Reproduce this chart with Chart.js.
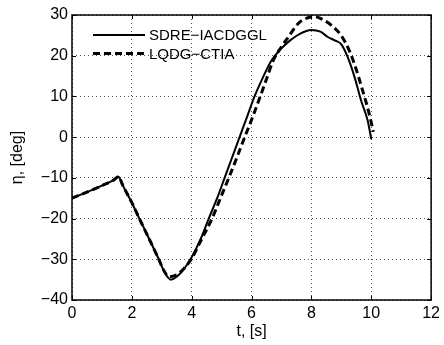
<!DOCTYPE html>
<html>
<head>
<meta charset="utf-8">
<script src="https://cdn.jsdelivr.net/npm/chart.js@4"></script>
<style>
  body { margin: 0; background: #fff; }
  canvas { display: block; }
</style>
</head>
<body>
<canvas id="etaChart" width="444" height="345"></canvas>
<script>
// axis ticks
const xTicks = [0, 2, 4, 6, 8, 10, 12];
const yTicks = [-40, -30, -20, -10, 0, 10, 20, 30];

// series: SDRE-IACDGGL (solid)
const tSdre = [0, 0.5, 1.0, 1.4, 1.55, 1.7, 2.0, 2.25, 2.5, 2.9, 3.1, 3.3, 3.5, 3.75, 4.0, 4.3, 4.57, 4.85, 5.1, 5.35, 5.6, 5.85, 6.1, 6.4, 6.67, 7.0, 7.23, 7.6, 8.0, 8.3, 8.55, 8.8, 9.0, 9.21, 9.44, 9.66, 9.88, 10.0];
const etaSdre = [-15, -13.5, -11.9, -10.5, -9.7, -11.9, -16.1, -20, -23.8, -30, -33.3, -35, -34.3, -32.3, -29.5, -25, -20, -15, -10, -5, 0, 5, 10, 15, 18.9, 21.8, 23.4, 25.3, 26.3, 25.9, 24.6, 23.7, 22.8, 19.7, 14.8, 9, 4.1, -0.5];

// series: LQDG-CTIA (dashed)
const tLqdg = [0, 0.5, 1.0, 1.4, 1.55, 1.7, 2.0, 2.25, 2.5, 2.9, 3.05, 3.25, 3.5, 3.75, 4.0, 4.3, 4.68, 4.96, 5.24, 5.5, 5.77, 6.05, 6.29, 6.5, 6.73, 7.0, 7.23, 7.56, 7.8, 8.1, 8.4, 8.66, 8.99, 9.27, 9.49, 9.71, 9.93, 10.07];
const etaLqdg = [-15, -13.5, -11.9, -10.5, -9.7, -11.9, -16.1, -20, -23.8, -30, -32.5, -34.3, -33.8, -32.2, -29.8, -25.5, -20, -15, -10, -5.2, 0, 5.2, 10, 14.3, 18.9, 22.2, 24.6, 27.9, 29.1, 29.6, 28.8, 27.5, 25.0, 21.2, 16.8, 11.5, 5.8, 1.3];

const fontFamily = "'Liberation Sans', Arial, Helvetica, sans-serif";
Chart.defaults.font.family = fontFamily;
Chart.defaults.color = '#000';

function toPoints(xs, ys) {
    return xs.map((x, i) => ({ x: x, y: ys[i] }));
}

// MATLAB style box, inward ticks and legend inside the axes
const matlabBox = {
    id: 'matlabBox',
    afterDraw(chart) {
        const ctx = chart.ctx;
        const a = chart.chartArea;
        const xs = chart.scales.x;
        const ys = chart.scales.y;
        ctx.save();
        ctx.strokeStyle = '#000';
        ctx.lineWidth = 1;
        ctx.beginPath();
        xTicks.forEach(v => {
            const px = Math.round(xs.getPixelForValue(v)) + 0.5;
            ctx.moveTo(px, a.bottom); ctx.lineTo(px, a.bottom - 4);
            ctx.moveTo(px, a.top); ctx.lineTo(px, a.top + 4);
        });
        yTicks.forEach(v => {
            const py = Math.round(ys.getPixelForValue(v)) + 0.5;
            ctx.moveTo(a.left, py); ctx.lineTo(a.left + 4, py);
            ctx.moveTo(a.right, py); ctx.lineTo(a.right - 4, py);
        });
        ctx.stroke();
        ctx.lineWidth = 1.5;
        ctx.strokeRect(a.left, a.top, a.right - a.left, a.bottom - a.top);

        // legend
        ctx.font = '15px ' + fontFamily;
        ctx.textBaseline = 'middle';
        ctx.fillStyle = '#000';
        chart.data.datasets.forEach((ds, i) => {
            const y = 35 + i * 18.5;
            ctx.beginPath();
            ctx.lineWidth = ds.borderWidth;
            ctx.setLineDash(ds.borderDash || []);
            ctx.moveTo(93, y);
            ctx.lineTo(145, y);
            ctx.stroke();
            ctx.setLineDash([]);
            ctx.fillText(ds.label, 149, y + 1);
        });
        ctx.restore();
    }
};

const ctx = document.getElementById('etaChart').getContext('2d');
const etaChart = new Chart(ctx, {
    type: 'line',
    data: {
        datasets: [{
            label: 'SDRE\u2212IACDGGL',
            data: toPoints(tSdre, etaSdre),
            borderColor: '#000',
            borderWidth: 2,
            pointRadius: 0,
            cubicInterpolationMode: 'monotone',
            fill: false
        }, {
            label: 'LQDG\u2212CTIA',
            data: toPoints(tLqdg, etaLqdg),
            borderColor: '#000',
            borderWidth: 3,
            borderDash: [7, 4],
            pointRadius: 0,
            cubicInterpolationMode: 'monotone',
            fill: false
        }]
    },
    options: {
        responsive: false,
        animation: false,
        layout: {
            padding: { left: 0, right: 10, top: 15, bottom: 0 }
        },
        plugins: {
            legend: { display: false },
            tooltip: { enabled: false }
        },
        scales: {
            x: {
                type: 'linear',
                min: 0,
                max: 12,
                afterBuildTicks: scale => { scale.ticks = xTicks.map(v => ({ value: v })); },
                afterFit: scale => { scale.height = 45; },
                ticks: { font: { size: 16 }, padding: 4, color: '#000' },
                grid: { color: '#555', lineWidth: 1, drawTicks: false },
                border: { display: false, dash: [1, 3] },
                title: {
                    display: true,
                    text: 't, [s]',
                    font: { size: 16 },
                    color: '#000',
                    padding: { top: 0, bottom: 4 }
                }
            },
            y: {
                type: 'linear',
                min: -40,
                max: 30,
                afterBuildTicks: scale => { scale.ticks = yTicks.map(v => ({ value: v })); },
                afterFit: scale => { scale.width = 72; },
                ticks: {
                    font: { size: 16 },
                    padding: 4,
                    color: '#000',
                    callback: v => (v < 0 ? '\u2212' + Math.abs(v) : String(v))
                },
                grid: { color: '#555', lineWidth: 1, drawTicks: false },
                border: { display: false, dash: [1, 3] },
                title: {
                    display: true,
                    text: '\u03b7, [deg]',
                    font: { size: 16 },
                    color: '#000',
                    padding: { top: 8, bottom: 0 }
                }
            }
        }
    },
    plugins: [matlabBox]
});
</script>
</body>
</html>
